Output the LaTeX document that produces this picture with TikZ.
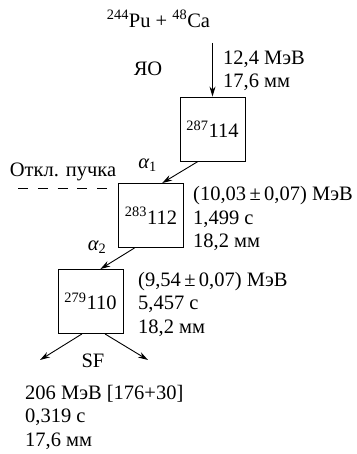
\documentclass[tikz,border=0pt]{standalone}
\usepackage{fontspec}
\setmainfont{Liberation Serif}
\usetikzlibrary{arrows.meta,calc}
\newcommand{\alphalabel}[1]{{\itshape α}\textsubscript{#1}}
\begin{document}
\begin{tikzpicture}[x=1pt,y=-1pt,
  every node/.style={font=\fontsize{20.5}{23.5}\selectfont, inner sep=0pt},
  box/.style={draw, line width=0.9pt, minimum width=65pt, minimum height=64pt},
  arr/.style={line width=0.9pt, -{Stealth[length=10pt,width=6pt]}},
  info/.style={anchor=west, align=left}]
\useasboundingbox (0,0) rectangle (356,454);
\node (top) at (158.5,19) {\textsuperscript{244}Pu + \textsuperscript{48}Ca};
\node (yo) at (148,69) {ЯО};
\node[box] (b1) at (212.5,129) {\textsuperscript{287}114};
\node[box] (b2) at (151,215.5) {\textsuperscript{283}112};
\node[box] (b3) at (90.5,301.5) {\textsuperscript{279}110};
\coordinate (a0) at (212.5,43);
\draw[arr] (a0) -- (b1.north);
\node[info] (t1) at (223,71) {12,4 МэВ\\17,6 мм};
\draw[arr] ($(b1.south west)!0.28!(b1.south east)$) -- ($(b2.north west)!0.67!(b2.north east)$);
\node (al1) at (147.5,165) {\alphalabel{1}};
\node (otkl) at (63,172) {Откл. пучка};
\coordinate (d1) at (18,188);
\coordinate (d2) at (107,188);
\draw[line width=0.9pt, dash pattern=on 10pt off 9.75pt] (d1) -- (d2);
\node[info] (t2) at (193,218.5) {(10,03\,±\,0,07) МэВ\\1,499 с\\18,2 мм};
\draw[arr] ($(b2.south west)!0.25!(b2.south east)$) -- ($(b3.north west)!0.65!(b3.north east)$);
\node (al2) at (97,247) {\alphalabel{2}};
\node[info] (t3) at (138,304) {(9,54\,±\,0,07) МэВ\\5,457 с\\18,2 мм};
\coordinate (sfL) at (40,360);
\coordinate (sfR) at (148,360);
\draw[arr] ($(b3.south west)!0.37!(b3.south east)$) -- (sfL);
\draw[arr] ($(b3.south west)!0.72!(b3.south east)$) -- (sfR);
\node (sf) at (93,361) {SF};
\node[info] (t4) at (25,417) {206 МэВ [176+30]\\0,319 с\\17,6 мм};
\end{tikzpicture}
\end{document}
